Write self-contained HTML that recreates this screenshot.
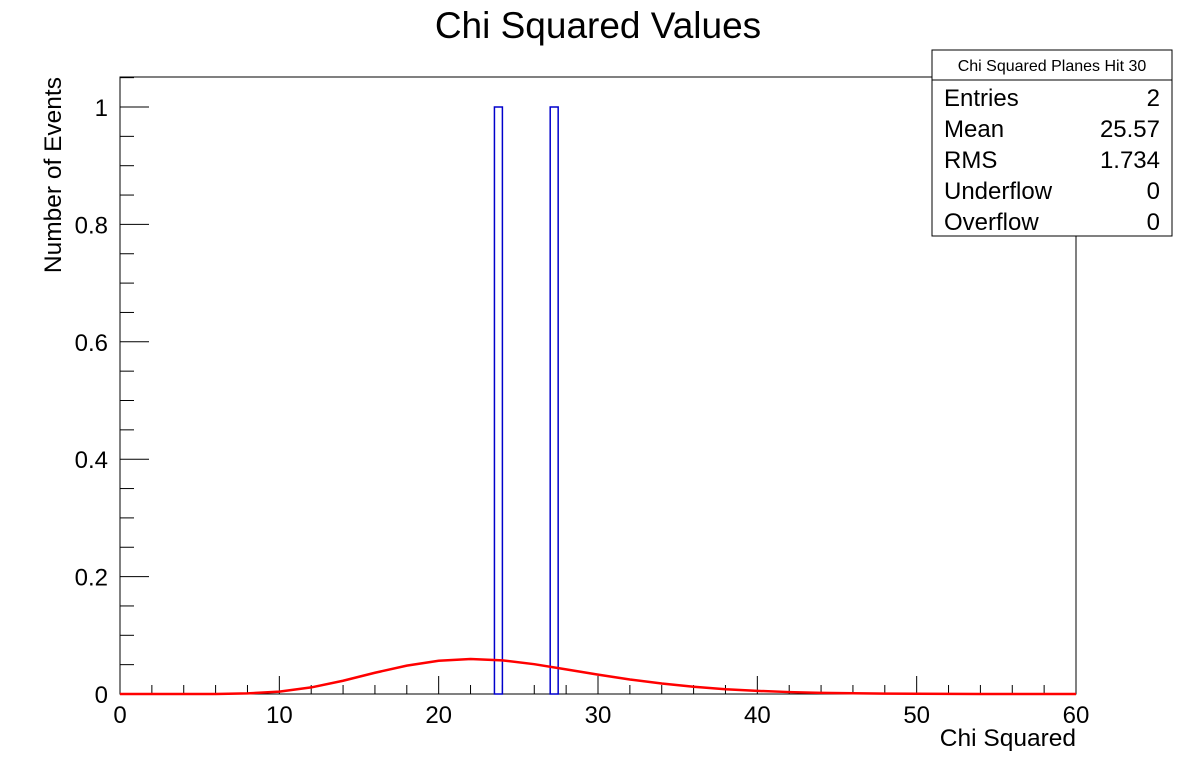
<!DOCTYPE html>
<html><head><meta charset="utf-8"><style>
body{margin:0;background:#fff;}
svg text{font-family:"Liberation Sans",sans-serif;}
</style></head><body>
<svg id="chart" width="1196" height="772" xmlns="http://www.w3.org/2000/svg">
<rect width="1196" height="772" fill="#fff"/>
<text x="598" y="38" font-size="37" text-anchor="middle">Chi Squared Values</text>
<rect x="120" y="77" width="956" height="617" fill="none" stroke="#000" stroke-width="1"/>
<g id="axes"></g>
<g id="bars"></g>
<polyline id="fit" fill="none" stroke="#f00" stroke-width="2.5"/>
<text x="1076" y="746" font-size="24.5" text-anchor="end">Chi Squared</text>
<text transform="translate(61,77) rotate(-90)" font-size="24.5" text-anchor="end">Number of Events</text>
<g>
<rect x="932" y="50" width="240" height="186" fill="#fff" stroke="#000"/>
<line x1="932" y1="80" x2="1172" y2="80" stroke="#000"/>
<text x="1052" y="71" font-size="16" text-anchor="middle">Chi Squared Planes Hit 30</text>
<g font-size="24">
<text x="944" y="106">Entries</text><text x="1160" y="106" text-anchor="end">2</text>
<text x="944" y="137">Mean</text><text x="1160" y="137" text-anchor="end">25.57</text>
<text x="944" y="168">RMS</text><text x="1160" y="168" text-anchor="end">1.734</text>
<text x="944" y="199">Underflow</text><text x="1160" y="199" text-anchor="end">0</text>
<text x="944" y="230">Overflow</text><text x="1160" y="230" text-anchor="end">0</text>
</g></g>
</svg>
<script>
const binLo=[23.5,27];
const binHi=[24,27.5];
const binCounts=[1,1];
const fitX=[0,2,4,6,8,10,12,14,16,18,20,22,24,26,28,30,32,34,36,38,40,42,44,46,48,50,52,54,56,58,60];
const fitY=[0,0,0,0.0001,0.001,0.0041,0.0112,0.0226,0.0362,0.0483,0.0567,0.0596,0.0573,0.0508,0.042,0.033,0.0247,0.0178,0.0123,0.0081,0.0053,0.0033,0.002,0.0012,0.0007,0.0004,0.0002,0.0001,0,0,0];
const xTicks=[0,10,20,30,40,50,60];
const yTicks=[0,0.2,0.4,0.6,0.8,1];
const yTickLabels=["0","0.2","0.4","0.6","0.8","1"];
const NS="http://www.w3.org/2000/svg";
const X=v=>120+v*956/60, Y=v=>694-v*587;
function mk(tag,attrs,parent){const e=document.createElementNS(NS,tag);for(const k in attrs)e.setAttribute(k,attrs[k]);parent.appendChild(e);return e;}
const ax=document.getElementById('axes');
for(let v=0;v<=60.001;v+=2){const maj=Math.abs(v%10)<1e-6;const l=mk('line',{x1:X(v),x2:X(v),y1:694,y2:694-(maj?18:9),stroke:'#000'},ax);

}
xTicks.forEach(v=>{const t=mk('text',{x:X(v),y:723,'font-size':24,'text-anchor':'middle'},ax);t.textContent=v;

});
for(let i=0;i<=21;i++){const v=i*0.05;const maj=i%4===0;const l=mk('line',{x1:120,x2:120+(maj?29:14),y1:Y(v),y2:Y(v),stroke:'#000'},ax);

}
yTicks.forEach((v,i)=>{const t=mk('text',{x:108,y:Y(v)+9,'font-size':24,'text-anchor':'end'},ax);t.textContent=yTickLabels[i];

});
const bg=document.getElementById('bars');
binLo.forEach((lo,i)=>{const r=mk('rect',{x:X(lo),y:Y(binCounts[i]),width:X(binHi[i])-X(lo),height:694-Y(binCounts[i]),fill:'none',stroke:'#00c','stroke-width':1.5},bg);

});
document.getElementById('fit').setAttribute('points',fitX.map((x,i)=>X(x)+','+Y(fitY[i])).join(' '));
</script>
</body></html>
